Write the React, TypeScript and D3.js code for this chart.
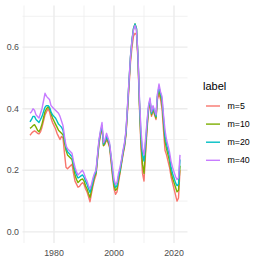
import * as d3 from "d3";

// half-year time points
const years = [
  1972.0, 1972.5, 1973.0, 1973.5, 1974.0, 1974.5, 1975.0, 1975.5, 1976.0, 1976.5,
  1977.0, 1977.5, 1978.0, 1978.5, 1979.0, 1979.5, 1980.0, 1980.5, 1981.0, 1981.5,
  1982.0, 1982.5, 1983.0, 1983.5, 1984.0, 1984.5, 1985.0, 1985.5, 1986.0, 1986.5,
  1987.0, 1987.5, 1988.0, 1988.5, 1989.0, 1989.5, 1990.0, 1990.5, 1991.0, 1991.5,
  1992.0, 1992.5, 1993.0, 1993.5, 1994.0, 1994.5, 1995.0, 1995.5, 1996.0, 1996.5,
  1997.0, 1997.5, 1998.0, 1998.5, 1999.0, 1999.5, 2000.0, 2000.5, 2001.0, 2001.5,
  2002.0, 2002.5, 2003.0, 2003.5, 2004.0, 2004.5, 2005.0, 2005.5, 2006.0, 2006.5,
  2007.0, 2007.5, 2008.0, 2008.5, 2009.0, 2009.5, 2010.0, 2010.5, 2011.0, 2011.5,
  2012.0, 2012.5, 2013.0, 2013.5, 2014.0, 2014.5, 2015.0, 2015.5, 2016.0, 2016.5,
  2017.0, 2017.5, 2018.0, 2018.5, 2019.0, 2019.5, 2020.0, 2020.5, 2021.0, 2021.5,
  2022.0,
];

const m5 = [
  0.314, 0.32, 0.325, 0.328, 0.325, 0.32, 0.318, 0.325, 0.34, 0.36,
  0.38, 0.39, 0.4, 0.39, 0.37, 0.355, 0.345, 0.335, 0.32, 0.31,
  0.3, 0.31, 0.305, 0.255, 0.21, 0.205, 0.21, 0.215, 0.22, 0.19,
  0.165, 0.155, 0.145, 0.148, 0.155, 0.16, 0.155, 0.14, 0.13, 0.115,
  0.098, 0.125, 0.15, 0.17, 0.185, 0.235, 0.285, 0.315, 0.335, 0.28,
  0.285, 0.3, 0.29, 0.275, 0.23, 0.18, 0.14, 0.122, 0.13, 0.16,
  0.19, 0.22, 0.25, 0.275, 0.315, 0.39, 0.47, 0.55, 0.6, 0.635,
  0.645, 0.64, 0.555, 0.4, 0.27, 0.19, 0.165, 0.25, 0.33, 0.39,
  0.42, 0.375, 0.395, 0.38, 0.365, 0.43, 0.45, 0.43, 0.4, 0.33,
  0.265, 0.25, 0.23, 0.21, 0.18, 0.16, 0.14, 0.12, 0.1, 0.11,
  0.2,
];

const m10 = [
  0.336, 0.34, 0.345, 0.348, 0.34, 0.33, 0.325, 0.335, 0.35, 0.37,
  0.39, 0.4, 0.406, 0.4, 0.385, 0.37, 0.36, 0.35, 0.34, 0.33,
  0.325, 0.32, 0.315, 0.29, 0.265, 0.25, 0.245, 0.24, 0.235, 0.21,
  0.185, 0.17, 0.16, 0.165, 0.17, 0.172, 0.165, 0.15, 0.14, 0.125,
  0.112, 0.135, 0.158, 0.18, 0.19, 0.24, 0.29, 0.32, 0.34, 0.28,
  0.29, 0.305, 0.295, 0.28, 0.24, 0.19, 0.15, 0.135, 0.14, 0.17,
  0.195, 0.225, 0.255, 0.28, 0.32, 0.4, 0.485, 0.565, 0.62, 0.66,
  0.675, 0.66, 0.565, 0.41, 0.29, 0.22, 0.19, 0.265, 0.34, 0.4,
  0.425, 0.38, 0.4, 0.385, 0.37, 0.44, 0.46, 0.44, 0.42, 0.355,
  0.295, 0.27, 0.25, 0.23, 0.195, 0.175, 0.16, 0.145, 0.13, 0.135,
  0.215,
];

const m20 = [
  0.357, 0.365, 0.375, 0.375, 0.365, 0.36, 0.355, 0.365, 0.375, 0.39,
  0.405, 0.41, 0.41, 0.405, 0.39, 0.38, 0.375, 0.37, 0.36, 0.35,
  0.345, 0.34, 0.33, 0.3, 0.275, 0.26, 0.255, 0.25, 0.245, 0.22,
  0.2, 0.185, 0.175, 0.178, 0.182, 0.185, 0.178, 0.165, 0.155, 0.14,
  0.128, 0.145, 0.165, 0.185, 0.195, 0.245, 0.295, 0.325, 0.345, 0.285,
  0.295, 0.31, 0.3, 0.285, 0.245, 0.2, 0.16, 0.145, 0.15, 0.18,
  0.2, 0.23, 0.26, 0.285, 0.325, 0.405, 0.49, 0.57, 0.625, 0.66,
  0.675, 0.66, 0.57, 0.42, 0.31, 0.25, 0.23, 0.285, 0.35, 0.405,
  0.43, 0.385, 0.405, 0.39, 0.375, 0.445, 0.47, 0.45, 0.43, 0.37,
  0.31, 0.285, 0.265, 0.245, 0.21, 0.19, 0.175, 0.16, 0.15, 0.155,
  0.235,
];

const m40 = [
  0.385, 0.39, 0.4, 0.395, 0.38, 0.375, 0.37, 0.385, 0.4, 0.425,
  0.45, 0.44, 0.435, 0.43, 0.41, 0.405, 0.4, 0.395, 0.39, 0.385,
  0.375, 0.36, 0.345, 0.31, 0.28, 0.27, 0.265, 0.26, 0.255, 0.23,
  0.21, 0.195, 0.185, 0.19, 0.195, 0.2, 0.19, 0.175, 0.165, 0.15,
  0.14, 0.155, 0.175, 0.19, 0.2, 0.25, 0.3, 0.33, 0.355, 0.29,
  0.3, 0.32, 0.305, 0.29, 0.25, 0.21, 0.17, 0.155, 0.16, 0.19,
  0.21, 0.235, 0.265, 0.29, 0.33, 0.41, 0.49, 0.57, 0.62, 0.655,
  0.67, 0.655, 0.57, 0.43, 0.33, 0.27, 0.25, 0.3, 0.36, 0.41,
  0.435, 0.39, 0.41, 0.395, 0.38, 0.45, 0.48, 0.455, 0.44, 0.38,
  0.33, 0.3, 0.28, 0.26, 0.23, 0.21, 0.195, 0.18, 0.17, 0.175,
  0.25,
];

const labels = ["m=5", "m=10", "m=20", "m=40"];
const seriesValues = [m5, m10, m20, m40];
const colors = ["#F8766D", "#7CAE00", "#00BFC4", "#C77CFF"];

const xMajor = [1980, 2000, 2020];
const xMinor = [1970, 1990, 2010];
const yMajor = [0, 0.2, 0.4, 0.6];
const yMinor = [0.1, 0.3, 0.5, 0.7];

const font = "'Liberation Sans', Arial, sans-serif";

export default function App() {
  const panel = { left: 22.5, right: 187.5, top: 5.5, bottom: 243 };

  const x = d3.scaleLinear().domain([1969.5, 2024.5]).range([panel.left, panel.right]);
  const y = d3.scaleLinear().domain([-0.036, 0.735]).range([panel.bottom, panel.top]);

  const line = d3
    .line<number>()
    .x((d, i) => x(years[i]))
    .y((d) => y(d));

  return (
    <svg
      width={263}
      height={263}
      style={{ position: "fixed", left: 0, top: 0, background: "white" }}
    >
      {/* minor grid */}
      {xMinor.map((v) => (
        <line key={"xm" + v} x1={x(v)} x2={x(v)} y1={panel.top} y2={panel.bottom} stroke="#EBEBEB" strokeWidth={0.7} />
      ))}
      {yMinor.map((v) => (
        <line key={"ym" + v} x1={panel.left} x2={panel.right} y1={y(v)} y2={y(v)} stroke="#EBEBEB" strokeWidth={0.7} />
      ))}
      {/* major grid */}
      {xMajor.map((v) => (
        <line key={"xM" + v} x1={x(v)} x2={x(v)} y1={panel.top} y2={panel.bottom} stroke="#EBEBEB" strokeWidth={1.4} />
      ))}
      {yMajor.map((v) => (
        <line key={"yM" + v} x1={panel.left} x2={panel.right} y1={y(v)} y2={y(v)} stroke="#EBEBEB" strokeWidth={1.4} />
      ))}

      {seriesValues.map((vals, i) => (
        <path key={labels[i]} d={line(vals) || ""} fill="none" stroke={colors[i]} strokeWidth={1.4} strokeLinejoin="round" />
      ))}

      {/* axis labels */}
      {yMajor.map((v) => (
        <text key={"yl" + v} x={19} y={y(v) + 3.1} textAnchor="end" fontSize={8.8} fill="#4D4D4D" fontFamily={font}>
          {d3.format(".1f")(v)}
        </text>
      ))}
      {xMajor.map((v) => (
        <text key={"xl" + v} x={x(v)} y={255.6} textAnchor="middle" fontSize={8.8} fill="#4D4D4D" fontFamily={font}>
          {v}
        </text>
      ))}

      {/* legend */}
      <text x={203} y={90} fontSize={11} fill="#000" fontFamily={font}>
        label
      </text>
      {labels.map((lab, i) => {
        const cy = 106 + i * 18.1;
        return (
          <g key={"lg" + lab}>
            <line x1={206} x2={220} y1={cy} y2={cy} stroke={colors[i]} strokeWidth={1.4} />
            <text x={227.5} y={cy + 3.1} fontSize={8.8} fill="#000" fontFamily={font}>
              {lab}
            </text>
          </g>
        );
      })}
    </svg>
  );
}
